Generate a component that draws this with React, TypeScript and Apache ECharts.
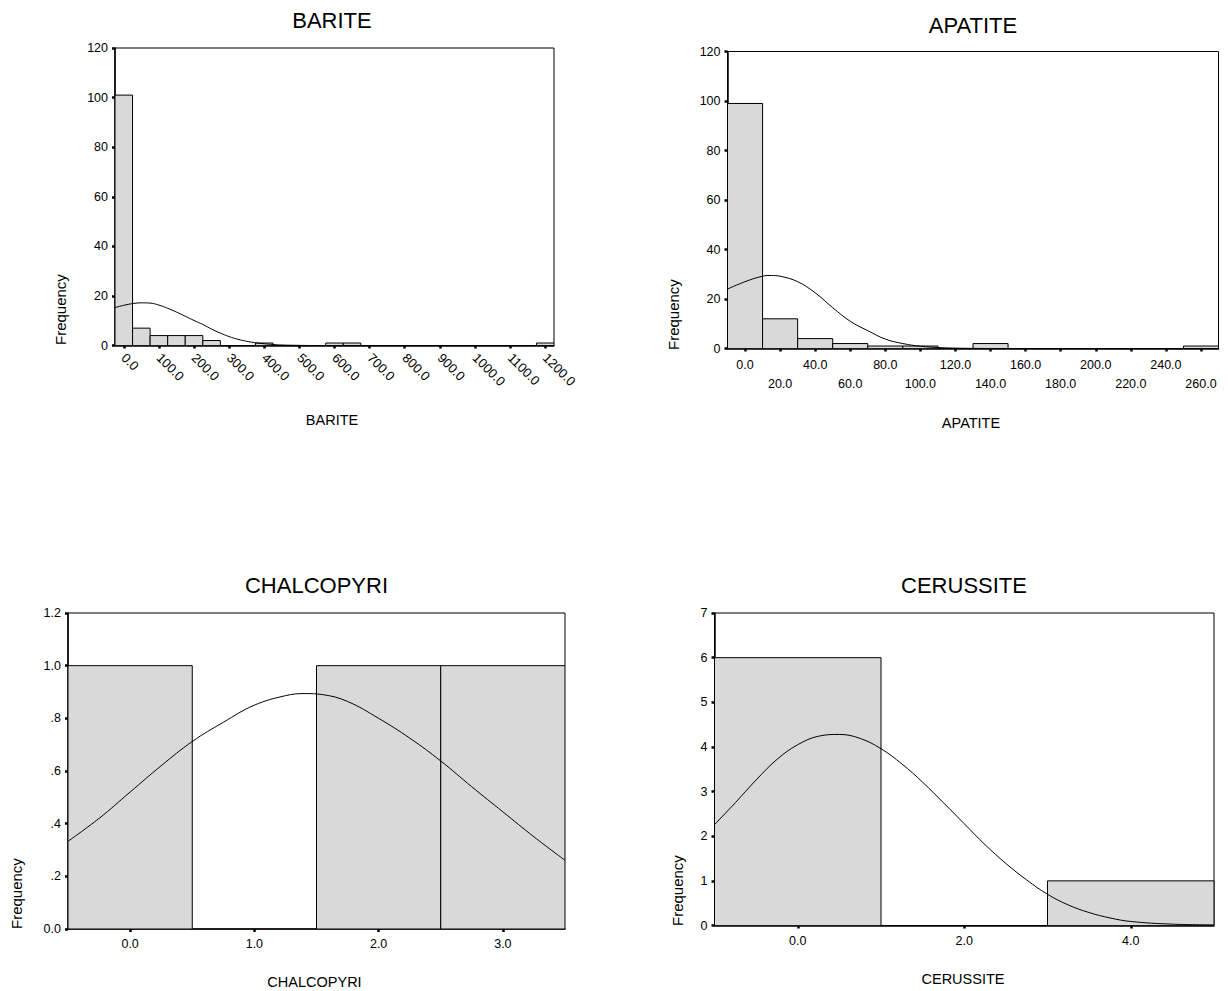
import React, { useEffect, useRef } from "react";
import * as echarts from "echarts";

// ---------- DATA ----------
const bariteCenters = [0, 50, 100, 150, 200, 250, 400, 600, 650, 1200];
const bariteCounts = [101, 7, 4, 4, 4, 2, 1, 1, 1, 1];
const bariteBinWidth = 50;
const bariteCurveX = [-25, 0, 25, 50, 75, 100, 125, 150, 175, 200, 225, 250, 275, 300, 325, 350, 375, 400, 425, 450, 500, 550, 700, 900, 1100, 1225];
const bariteCurveY = [15.3, 16.2, 16.9, 17.2, 17.1, 16.3, 15.0, 13.5, 11.8, 10.1, 8.5, 6.6, 5.0, 3.6, 2.5, 1.7, 1.1, 0.7, 0.4, 0.2, 0.05, 0, 0, 0, 0, 0];
const bariteTicks = [0, 100, 200, 300, 400, 500, 600, 700, 800, 900, 1000, 1100, 1200];

const apatiteCenters = [0, 20, 40, 60, 80, 100, 140, 260];
const apatiteCounts = [99, 12, 4, 2, 1, 1, 2, 1];
const apatiteBinWidth = 20;
const apatiteCurveX = [-10, 0, 10, 15, 20, 30, 40, 50, 60, 70, 80, 90, 100, 110, 120, 130, 140, 180, 220, 270];
const apatiteCurveY = [24, 27, 29.2, 29.5, 29.2, 27, 22.5, 16.5, 11, 7.2, 3.8, 2, 0.9, 0.4, 0.15, 0.05, 0, 0, 0, 0];
const apatiteTicks = [0, 20, 40, 60, 80, 100, 120, 140, 160, 180, 200, 220, 240, 260];

const chalcoCenters = [0, 2, 3];
const chalcoCounts = [1, 1, 1];
const chalcoBinWidth = 1;
const chalcoCurveX = [-0.5, -0.25, 0, 0.25, 0.5, 0.75, 1, 1.25, 1.4, 1.55, 1.75, 2, 2.25, 2.5, 2.75, 3, 3.25, 3.5];
const chalcoCurveY = [0.333, 0.42, 0.52, 0.62, 0.712, 0.785, 0.85, 0.886, 0.894, 0.89, 0.864, 0.80, 0.725, 0.638, 0.54, 0.445, 0.35, 0.261];
const chalcoTicks = [0, 1, 2, 3];

const cerussiteCenters = [0, 4];
const cerussiteCounts = [6, 1];
const cerussiteBinWidth = 2;
const cerussiteCurveX = [-1, -0.75, -0.5, -0.25, 0, 0.25, 0.5, 0.75, 1, 1.25, 1.5, 1.75, 2, 2.25, 2.5, 2.75, 3, 3.25, 3.5, 3.75, 4, 4.5, 5];
const cerussiteCurveY = [2.26, 2.75, 3.26, 3.72, 4.05, 4.24, 4.28, 4.19, 3.96, 3.62, 3.21, 2.75, 2.28, 1.81, 1.39, 1.02, 0.7, 0.46, 0.29, 0.17, 0.09, 0.03, 0.015];
const cerussiteTicks = [0, 2, 4];

const titles = ["BARITE", "APATITE", "CHALCOPYRI", "CERUSSITE"];
const yLabel = "Frequency";

// ---------- LAYOUT / STYLE ----------
const FONT = '"Liberation Sans", Arial, Helvetica, sans-serif';
const BAR_FILL = "#d9d9d9";

const panels = [
  {
    grid: { left: 115, top: 48, width: 439, height: 297.5 },
    xMin: -25, xMax: 1225, yMin: 0, yMax: 120, yInterval: 20,
    centers: bariteCenters, counts: bariteCounts, bw: bariteBinWidth,
    cx: bariteCurveX, cy: bariteCurveY, ticks: bariteTicks,
    xFmt: (v: number) => v.toFixed(1), rotate: -45, lineHeight: 14, xFont: 13, xMargin: 10,
    yFmt: (v: number) => String(v),
    title: [332, 20], name: [332, 420], freq: [60, 345],
  },
  {
    grid: { left: 727.5, top: 51.5, width: 491, height: 297 },
    xMin: -10, xMax: 270, yMin: 0, yMax: 120, yInterval: 20,
    centers: apatiteCenters, counts: apatiteCounts, bw: apatiteBinWidth,
    cx: apatiteCurveX, cy: apatiteCurveY, ticks: apatiteTicks,
    xFmt: (v: number) => ((Math.round(v / 20) % 2 === 1) ? "\n" : "") + v.toFixed(1), rotate: 0, lineHeight: 19, xFont: 12.5, xMargin: 7,
    yFmt: (v: number) => String(v),
    title: [973, 25], name: [971, 423], freq: [673, 350],
  },
  {
    grid: { left: 68, top: 613, width: 497, height: 316 },
    xMin: -0.5, xMax: 3.5, yMin: 0, yMax: 1.2, yInterval: 0.2,
    centers: chalcoCenters, counts: chalcoCounts, bw: chalcoBinWidth,
    cx: chalcoCurveX, cy: chalcoCurveY, ticks: chalcoTicks,
    xFmt: (v: number) => v.toFixed(1), rotate: 0, lineHeight: 14, xFont: 12.5, xMargin: 8,
    yFmt: (v: number) => (Math.abs(v) < 1e-9 ? "0.0" : v >= 0.999 ? v.toFixed(1) : v.toFixed(1).replace(/^0/, "")),
    title: [316.5, 585], name: [314.5, 982], freq: [16.5, 929],
  },
  {
    grid: { left: 714.5, top: 613, width: 499.5, height: 312.5 },
    xMin: -1, xMax: 5, yMin: 0, yMax: 7, yInterval: 1,
    centers: cerussiteCenters, counts: cerussiteCounts, bw: cerussiteBinWidth,
    cx: cerussiteCurveX, cy: cerussiteCurveY, ticks: cerussiteTicks,
    xFmt: (v: number) => v.toFixed(1), rotate: 0, lineHeight: 14, xFont: 12.5, xMargin: 8,
    yFmt: (v: number) => String(v),
    title: [964, 585], name: [963, 979], freq: [677, 926],
  },
];

function buildOption() {
  const grid: any[] = [];
  const xAxis: any[] = [];
  const yAxis: any[] = [];
  const series: any[] = [];
  const graphic: any[] = [];

  panels.forEach((p, i) => {
    grid.push({ ...p.grid, show: true, borderColor: "#000", borderWidth: 1, backgroundColor: "transparent", containLabel: false });
    xAxis.push({
      type: "value", gridIndex: i, min: p.xMin, max: p.xMax,
      splitLine: { show: false },
      axisLine: { show: true, onZero: false, lineStyle: { color: "#000", width: 1.5 } },
      axisTick: { show: true, customValues: p.ticks, length: 3, inside: false, lineStyle: { color: "#000", width: 2.5 } },
      axisLabel: {
        show: true, customValues: p.ticks, formatter: p.xFmt, rotate: p.rotate, margin: p.xMargin,
        color: "#000", fontSize: p.xFont, fontFamily: FONT, lineHeight: p.lineHeight, hideOverlap: false,
      },
    });
    yAxis.push({
      type: "value", gridIndex: i, min: p.yMin, max: p.yMax, interval: p.yInterval,
      splitLine: { show: false },
      axisLine: { show: true, onZero: false, lineStyle: { color: "#000", width: 1.5 } },
      axisTick: { show: true, length: 3, lineStyle: { color: "#000", width: 2.5 } },
      axisLabel: { formatter: p.yFmt, margin: 7, color: "#000", fontSize: 12.5, fontFamily: FONT },
    });
    const bins = p.centers.map((c, k) => [c - p.bw / 2, c + p.bw / 2, p.counts[k]]);
    series.push({
      type: "custom", xAxisIndex: i, yAxisIndex: i, data: bins, z: 2, clip: true,
      encode: { x: [0, 1], y: 2 },
      renderItem: (_params: any, api: any) => {
        const a = api.coord([api.value(0), api.value(2)]);
        const b = api.coord([api.value(1), 0]);
        return {
          type: "rect",
          shape: { x: a[0], y: a[1], width: b[0] - a[0], height: b[1] - a[1] },
          style: { fill: BAR_FILL, stroke: "#000", lineWidth: 1 },
        };
      },
    });
    series.push({
      type: "line", xAxisIndex: i, yAxisIndex: i, z: 3,
      data: p.cx.map((x, k) => [x, p.cy[k]]),
      smooth: 0.4, showSymbol: false, symbol: "none", clip: true,
      lineStyle: { color: "#000", width: 1 },
    });
    graphic.push({
      type: "text", x: p.title[0], y: p.title[1],
      style: { text: titles[i], fontSize: 22, fontFamily: FONT, fill: "#000", align: "center", verticalAlign: "middle" },
    });
    graphic.push({
      type: "text", x: p.name[0], y: p.name[1],
      style: { text: titles[i], fontSize: 14.5, fontFamily: FONT, fill: "#000", align: "center", verticalAlign: "middle" },
    });
    graphic.push({
      type: "text", x: p.freq[0], y: p.freq[1], rotation: Math.PI / 2,
      style: { text: yLabel, fontSize: 15, fontFamily: FONT, fill: "#000", align: "left", verticalAlign: "middle" },
    });
  });

  return {
    animation: false,
    backgroundColor: "#fff",
    textStyle: { fontFamily: FONT },
    grid, xAxis, yAxis, series, graphic,
  };
}

export default function App() {
  const ref = useRef<HTMLDivElement>(null);
  useEffect(() => {
    document.body.style.margin = "0";
    if (!ref.current) return;
    const chart = echarts.init(ref.current, undefined, { renderer: "svg" });
    chart.setOption(buildOption() as any);
    return () => chart.dispose();
  }, []);
  return <div ref={ref} style={{ width: 1228, height: 991 }} />;
}
